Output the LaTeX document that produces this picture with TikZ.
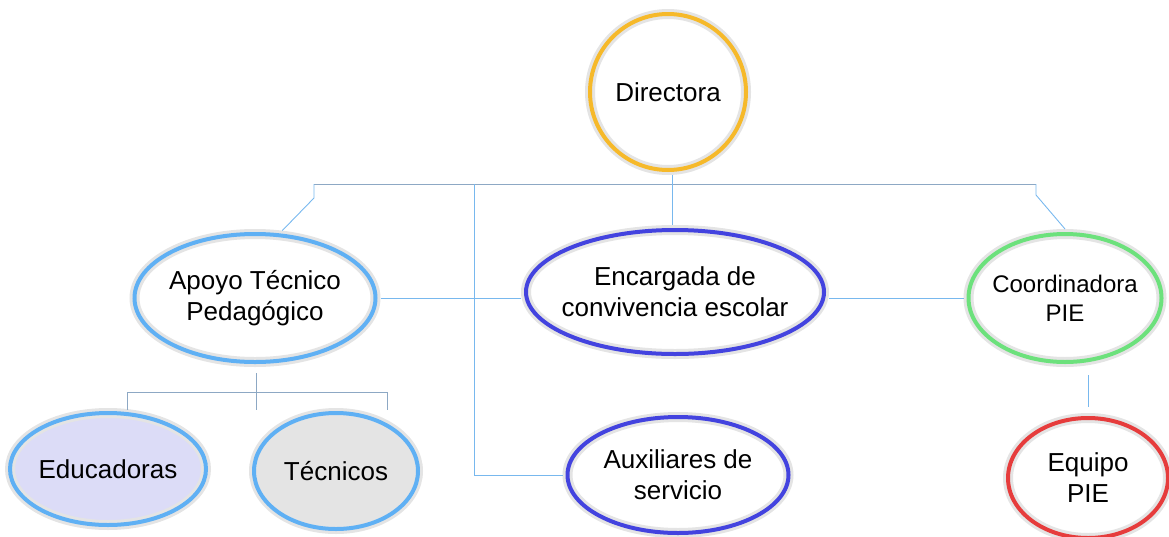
\documentclass[tikz,border=0pt]{standalone}
\usepackage{fontspec}
\setmainfont{Liberation Sans}
\usetikzlibrary{positioning,shapes.geometric}
\definecolor{ringorange}{HTML}{F6B92A}
\definecolor{ringsky}{HTML}{5FB0F4}
\definecolor{ringblue}{HTML}{4343DF}
\definecolor{ringgreen}{HTML}{6CE17C}
\definecolor{ringred}{HTML}{E63C3C}
\definecolor{halo}{HTML}{E4E4E4}
\definecolor{linksky}{HTML}{78B8EE}
\definecolor{linkgrey}{HTML}{8DA8C4}
\definecolor{lavender}{HTML}{DCDCF7}
\tikzset{
    % ring with grey halo
    role/.style={
           ellipse,
           inner xsep=-30pt,
           inner ysep=-15pt,
           align=center,
           fill=white,
           draw=halo,
           line width=10pt,
           font=\fontsize{26}{31}\selectfont,
           postaction={draw=#1, line width=4pt}},
    % connector styles
    link/.style={draw=linksky, line width=0.9pt},
    bus/.style={draw=linkgrey, line width=0.9pt}
}

\begin{document}
\begin{tikzpicture}[x=1pt, y=-1pt]

\useasboundingbox (0,0) rectangle (1169,536);

%%%%%%%%%%%%%%%%%%%%%%%%%%%%%%%%%

% top level
\node [role=ringorange, minimum width=156, minimum height=156] (dir) at (668, 92) {Directora};

% second level
\node [role=ringsky, minimum width=241, minimum height=128] (apt) at (255, 298) {Apoyo Técnico\\Pedagógico};
\node [role=ringblue, minimum width=298, minimum height=124] (enc) at (675, 292) {Encargada de\\convivencia escolar};
\node [role=ringgreen, minimum width=193, minimum height=128, font=\fontsize{24}{29}\selectfont] (coord) at (1065, 298) {Coordinadora\\PIE};

% third level
\node [role=ringsky, fill=lavender, minimum width=196, minimum height=112] (edu) at (108, 469) {Educadoras};
\node [role=ringsky, fill=halo, minimum width=164, minimum height=116] (tec) at (336, 471) {Técnicos};
\node [role=ringblue, minimum width=221, minimum height=116] (aux) at (678, 475) {Auxiliares de\\servicio};
\node [role=ringred, minimum width=160, minimum height=120] (eq) at (1088, 478) {Equipo\\PIE};

% bus corners
\coordinate (busL) at (314, 184);
\coordinate (busM) at (474, 184);
\coordinate (busR) at (1036, 184);
\coordinate (subL) at (127, 392);
\coordinate (subM) at (256, 392);
\coordinate (subR) at (387, 392);

% top bus
\draw [bus] (busL) -- (busR);
\draw [link] (dir.south -| 672, 0) -- (enc.north -| 672, 0);
\draw [link] (busL) -- ++(0, 14) -- (apt.68);
\draw [link] (busR) -- ++(0, 11) -- (coord.north);
\draw [link] (busM) |- (aux.west);

% side links
\draw [link] (apt.east) -- (apt.east -| enc.west);
\draw [link] (coord.west) -- (coord.west -| enc.east);
\draw [link, shorten <=8pt, shorten >=6pt] (coord.south -| eq.north) -- (eq.north);

% sub bus
\draw [bus] (subL) -- (subR);
\draw [bus] (subM) ++(0, -19) -- ++(0, 37);
\draw [bus] (subL) -- ++(0, 18);
\draw [bus] (subR) -- ++(0, 18);

\end{tikzpicture}
\end{document}
